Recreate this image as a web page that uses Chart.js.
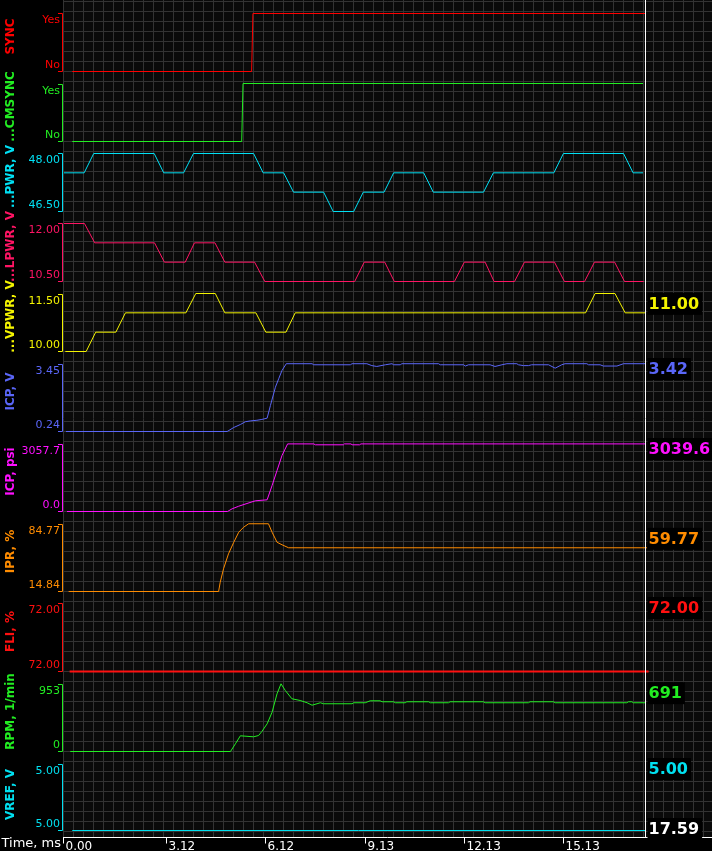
<!DOCTYPE html>
<html>
<head>
<meta charset="utf-8">
<script src="https://cdn.jsdelivr.net/npm/chart.js@4.4.0/dist/chart.umd.min.js"></script>
<style>
  html, body { margin: 0; padding: 0; background: #000; }
  canvas { display: block; }
</style>
</head>
<body>
<canvas id="scope" width="712" height="851"></canvas>
<script>
// time axis, ms
var timeTicks = [0, 3.12, 6.12, 9.13, 12.13, 15.13];
var timeEnd = 17.59;
var cursorLabel = '17.59';

// channels, top to bottom
var channelNames = ['SYNC', '...CMSYNC', '...PWR, V', '...LPWR, V', '...VPWR, V', 'ICP, V', 'ICP, psi', 'IPR, %', 'FLI, %', 'RPM, 1/min', 'VREF, V'];
var tickLow  = ['No', 'No', '46.50', '10.50', '10.00', '0.24', '0.0', '14.84', '72.00', '0', '5.00'];
var tickHigh = ['Yes', 'Yes', '48.00', '12.00', '11.50', '3.45', '3057.7', '84.77', '72.00', '953', '5.00'];
var rangeLow  = [0, 0, 46.5, 10.5, 10.0, 0.24, 0, 14.84, 72, 0, 5];
var rangeHigh = [1, 1, 48, 12, 11.5, 3.45, 3057.7, 84.77, 72, 953, 5];
// readouts at the cursor
var readouts      = [null, null, null, null, '11.00', '3.42', '3039.6', '59.77', '72.00', '691', '5.00'];
var readoutValues = [null, null, null, null, 11.0, 3.42, 3039.6, 59.77, 72, 691, 5];

// traces: [time ms, value]
var sync = [[0.25, 0], [5.68, 0], [5.72, 1], [17.59, 1]];
var cmsync = [[0.25, 0], [5.38, 0], [5.42, 1], [17.53, 1]];
var pwr = [[0.00, 47.5], [0.61, 47.5], [0.90, 48], [2.73, 48], [3.02, 47.5], [3.62, 47.5], [3.92, 48], [5.74, 48],
  [6.03, 47.5], [6.65, 47.5], [6.95, 47], [7.86, 47], [8.15, 46.5], [8.77, 46.5], [9.06, 47], [9.69, 47],
  [9.98, 47.5], [10.89, 47.5], [11.18, 47], [12.70, 47], [13.00, 47.5], [14.83, 47.5], [15.12, 48], [16.94, 48],
  [17.23, 47.5], [17.53, 47.5]];
var lpwr = [[0.00, 12], [0.62, 12], [0.93, 11.5], [2.74, 11.5], [3.04, 11], [3.67, 11], [3.95, 11.5], [4.57, 11.5],
  [4.87, 11], [5.77, 11], [6.08, 10.5], [8.80, 10.5], [9.09, 11], [9.71, 11], [10.00, 10.5], [11.82, 10.5],
  [12.12, 11], [12.75, 11], [13.02, 10.5], [13.64, 10.5], [13.94, 11], [14.85, 11], [15.15, 10.5], [15.76, 10.5],
  [16.06, 11], [16.67, 11], [16.97, 10.5], [17.55, 10.5]];
var vpwr = [[0.04, 10], [0.67, 10], [0.96, 10.5], [1.57, 10.5], [1.86, 11], [3.69, 11], [3.99, 11.5], [4.58, 11.5],
  [4.87, 11], [5.81, 11], [6.11, 10.5], [6.72, 10.5], [7.00, 11], [15.79, 11], [16.08, 11.5], [16.68, 11.5],
  [16.99, 11], [17.59, 11]];
var icpV = [[0.06, 0.24], [4.94, 0.24], [5.14, 0.43], [5.34, 0.57], [5.49, 0.70], [5.64, 0.74], [5.84, 0.77], [5.99, 0.81],
  [6.15, 0.87], [6.25, 1.47], [6.40, 2.33], [6.50, 2.73], [6.60, 3.12], [6.73, 3.44], [7.51, 3.44], [7.56, 3.39],
  [8.67, 3.39], [8.72, 3.44], [9.17, 3.44], [9.32, 3.35], [9.47, 3.31], [9.73, 3.39], [9.93, 3.44], [9.98, 3.39],
  [10.18, 3.39], [10.23, 3.44], [11.34, 3.44], [11.39, 3.39], [12.10, 3.39], [12.15, 3.33], [12.25, 3.39], [12.90, 3.39],
  [13.05, 3.31], [13.26, 3.39], [13.41, 3.44], [13.71, 3.44], [13.76, 3.39], [13.91, 3.35], [14.06, 3.35], [14.16, 3.39],
  [14.67, 3.39], [14.87, 3.23], [15.07, 3.39], [15.17, 3.44], [15.83, 3.44], [15.88, 3.39], [16.23, 3.39], [16.33, 3.33],
  [16.74, 3.33], [16.94, 3.44], [17.59, 3.44]];
var icpPsi = [[0.09, 0], [4.95, 0], [5.09, 121], [5.29, 238], [5.54, 360], [5.79, 481], [6.15, 526], [6.30, 1169],
  [6.45, 1844], [6.60, 2518], [6.77, 3040], [7.56, 3040], [7.61, 2999], [8.46, 2999], [8.49, 3040], [8.69, 3040],
  [8.72, 2999], [8.95, 2999], [8.99, 3040], [17.59, 3040]];
var ipr = [[0.14, 14.84], [4.68, 14.84], [4.73, 24.4], [4.83, 38.2], [4.98, 53.6], [5.14, 65.5], [5.29, 75.8], [5.44, 81.0],
  [5.59, 84.5], [6.19, 84.5], [6.30, 75.8], [6.45, 65.5], [6.60, 62.9], [6.80, 59.8], [17.65, 59.8]];
var fli = [[0.17, 72], [17.70, 72]];
var rpm = [[0.19, 0], [5.04, 0], [5.19, 108], [5.34, 220], [5.74, 206], [5.89, 224], [5.99, 280], [6.15, 388],
  [6.30, 551], [6.45, 809], [6.57, 949], [6.70, 855], [6.90, 739], [7.15, 715], [7.36, 683], [7.51, 649],
  [7.66, 669], [7.76, 683], [7.86, 669], [8.72, 669], [8.77, 683], [9.12, 683], [9.27, 711], [9.57, 711],
  [9.63, 697], [9.98, 697], [10.03, 683], [10.33, 683], [10.38, 697], [11.04, 697], [11.09, 683], [11.64, 683],
  [11.69, 697], [12.70, 697], [12.75, 683], [14.06, 683], [14.11, 697], [14.82, 697], [14.87, 683], [17.04, 683],
  [17.09, 697], [17.19, 697], [17.24, 683], [17.59, 683]];
var vref = [[0.25, 5], [17.59, 5]];

var series = [sync, cmsync, pwr, lpwr, vpwr, icpV, icpPsi, ipr, fli, rpm, vref];
var colors = ['#ff0000', '#22ee22', '#00e0f4', '#ff1464', '#f4f400', '#5a66f8', '#ff10ff', '#ff8c00', '#ff1010', '#22ee22', '#00e0f0'];
var lineWidths = [1, 1, 1, 1, 1, 1, 1, 1, 2, 1, 1];
var panelHeights = [70, 70, 70, 70, 70, 80, 80, 80, 80, 80, 86];

var FONT = '"DejaVu Sans", Verdana, sans-serif';

function flatRange(i) { return rangeHigh[i] === rangeLow[i]; }

var scales = { x: { type: 'linear', min: 0, max: timeEnd, display: false } };
channelNames.forEach(function (name, i) {
  var lo = rangeLow[i];
  var hi = flatRange(i) ? lo + 1 : rangeHigh[i];
  var padBottom = i === channelNames.length - 1 ? 7 : 0;
  var unit = (hi - lo) / (panelHeights[i] - 12 - padBottom);
  scales['y' + i] = {
    type: 'linear', display: false, position: 'left',
    stack: 'scope', stackWeight: panelHeights[i], weight: channelNames.length - i,
    min: lo - padBottom * unit, max: hi + 12 * unit
  };
});

var scopeFrame = {
  id: 'scopeFrame',
  beforeDraw: function (chart) {
    var ctx = chart.ctx, a = chart.chartArea;
    ctx.save();
    ctx.fillStyle = '#000';
    ctx.fillRect(0, 0, chart.width, chart.height);
    var gl = Math.floor(a.left) - 0.5, gb = Math.floor(a.bottom);
    ctx.fillStyle = '#0a0a0a';
    ctx.fillRect(gl, 0, chart.width - gl, gb);
    ctx.strokeStyle = '#333333';
    ctx.lineWidth = 1;
    ctx.beginPath();
    for (var x = gl; x < chart.width; x += 10) { ctx.moveTo(x, 0); ctx.lineTo(x, gb); }
    for (var y = Math.floor(a.top) + 0.5; y < gb; y += 10) { ctx.moveTo(gl, y); ctx.lineTo(chart.width, y); }
    ctx.stroke();
    ctx.restore();
  },
  afterDatasetsDraw: function (chart) {
    var ctx = chart.ctx, a = chart.chartArea, xs = chart.scales.x;
    var axisY = Math.floor(a.bottom) + 0.5;
    var curX = Math.round(xs.getPixelForValue(timeEnd)) + 0.5;
    ctx.save();
    ctx.lineWidth = 1;
    // cursor + time axis
    ctx.strokeStyle = '#ffffff';
    ctx.beginPath();
    ctx.moveTo(curX, 0); ctx.lineTo(curX, axisY);
    ctx.moveTo(Math.floor(a.left) - 1, axisY); ctx.lineTo(chart.width, axisY);
    ctx.stroke();
    ctx.fillStyle = '#ffffff';
    ctx.font = '12px ' + FONT;
    ctx.textAlign = 'left';
    ctx.textBaseline = 'alphabetic';
    timeTicks.forEach(function (t) {
      var px = Math.round(xs.getPixelForValue(t)) - 0.5;
      ctx.beginPath(); ctx.moveTo(px, axisY); ctx.lineTo(px, axisY + 6); ctx.stroke();
      ctx.fillText(t.toFixed(2), px + 2, 850);
    });
    ctx.font = '13px ' + FONT;
    ctx.textAlign = 'right';
    ctx.fillText('Time, ms', 61, 847);

    function readout(text, color, y) {
      ctx.font = 'bold 16px ' + FONT;
      var w = ctx.measureText(text).width;
      ctx.fillStyle = '#000';
      ctx.fillRect(curX + 2, y - 11, w + 4, 22);
      ctx.fillStyle = color;
      ctx.textAlign = 'left';
      ctx.textBaseline = 'middle';
      ctx.fillText(text, curX + 3, y + 1);
    }

    channelNames.forEach(function (name, i) {
      var s = chart.scales['y' + i];
      var c = colors[i];
      var lo = rangeLow[i];
      var hi = flatRange(i) ? lo + 1 : rangeHigh[i];
      var top = Math.round(s.getPixelForValue(hi)) + 0.5;
      var bot = Math.round(s.getPixelForValue(lo)) - 0.5;
      // bracket
      ctx.strokeStyle = c;
      ctx.beginPath();
      ctx.moveTo(58, top); ctx.lineTo(62.5, top); ctx.lineTo(62.5, bot); ctx.lineTo(58, bot);
      ctx.stroke();
      // tick labels
      ctx.fillStyle = c;
      ctx.font = '11px ' + FONT;
      ctx.textAlign = 'right';
      ctx.textBaseline = 'middle';
      ctx.fillText(tickHigh[i], 60, top + 6.5);
      ctx.fillText(tickLow[i], 60, bot - 6);
      // title
      ctx.save();
      ctx.translate(14, (s.top + s.bottom) / 2);
      ctx.rotate(-Math.PI / 2);
      ctx.font = 'bold 12px ' + FONT;
      ctx.textAlign = 'center';
      ctx.textBaseline = 'alphabetic';
      ctx.fillText(name, 0, 0);
      ctx.restore();
      // readout
      if (readouts[i] !== null) {
        var y = flatRange(i) ? top + 4.5 : Math.max(s.getPixelForValue(readoutValues[i]) - 9, top + 4.5);
        readout(readouts[i], c, y);
      }
    });
    readout(cursorLabel, '#ffffff', a.bottom - 8.5);
    ctx.restore();
  }
};

new Chart(document.getElementById('scope').getContext('2d'), {
  type: 'line',
  data: {
    datasets: series.map(function (pts, i) {
      return {
        label: channelNames[i],
        data: pts.map(function (p) { return { x: p[0], y: p[1] }; }),
        yAxisID: 'y' + i,
        borderColor: colors[i],
        borderWidth: lineWidths[i],
        pointRadius: 0,
        tension: 0,
        fill: false,
        clip: false
      };
    })
  },
  options: {
    responsive: false,
    animation: false,
    devicePixelRatio: 1,
    events: [],
    layout: { padding: { left: 64, right: 67, top: 1.5, bottom: 13.5 } },
    plugins: { legend: { display: false }, tooltip: { enabled: false } },
    scales: scales
  },
  plugins: [scopeFrame]
});
</script>
</body>
</html>
